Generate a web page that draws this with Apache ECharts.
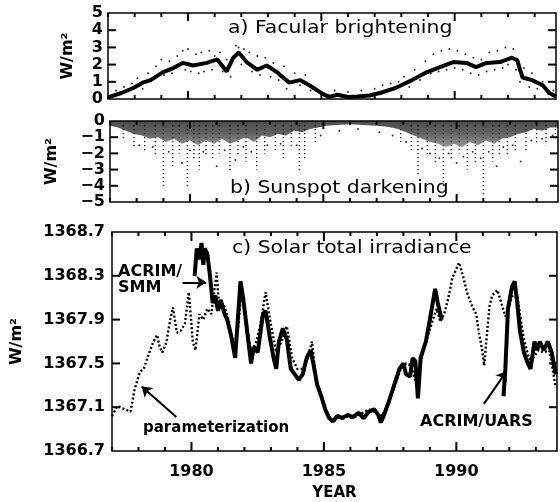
<!DOCTYPE html>
<html>
<head>
<meta charset="utf-8">
<script src="https://cdn.jsdelivr.net/npm/echarts@6/dist/echarts.min.js"></script>
<style>
html, body { margin: 0; padding: 0; background: #fff; overflow: hidden; }
#chart { width: 560px; height: 502px; }
</style>
</head>
<body>
<div id="chart"></div>
<script>
// a) facular brightening: smoothed curve + scattered daily points  [year, W/m2]
var facCurve = [
    [1977.0, 0.1], [1977.5, 0.35], [1977.95, 0.64], [1978.3, 0.95], [1978.6, 1.1],
    [1979.05, 1.55], [1979.45, 1.8], [1979.8, 2.1], [1980.2, 1.95], [1980.7, 2.1],
    [1981.1, 2.3], [1981.45, 1.6], [1981.7, 2.4], [1981.9, 2.7], [1982.2, 2.15],
    [1982.6, 1.7], [1982.95, 1.95], [1983.35, 1.55], [1983.45, 1.4], [1983.8, 0.95],
    [1984.2, 1.1], [1984.55, 0.8], [1985.05, 0.3], [1985.3, 0.12], [1985.6, 0.25],
    [1986.0, 0.12], [1986.35, 0.15], [1986.8, 0.2], [1987.2, 0.35], [1987.8, 0.65],
    [1988.4, 1.1], [1988.95, 1.55], [1989.45, 1.85], [1989.95, 2.15], [1990.45, 2.1],
    [1990.8, 1.85], [1991.2, 2.1], [1991.7, 2.15], [1992.15, 2.4], [1992.35, 2.25],
    [1992.45, 1.7], [1992.55, 1.25], [1992.9, 1.1], [1993.3, 0.8], [1993.55, 0.35],
    [1993.8, 0.15]
];
var facDots = [
    [1977.3, 0.5], [1977.6, 0.7], [1977.9, 0.9], [1978.1, 1.2], [1978.3, 0.6], [1978.5, 1.5],
    [1978.6, 1.1], [1978.8, 1.9], [1979.0, 2.3], [1979.1, 1.4], [1979.3, 2.2], [1979.4, 1.5],
    [1979.6, 2.5], [1979.8, 2.8], [1979.9, 1.7], [1980.0, 2.9], [1980.1, 1.6], [1980.3, 2.6],
    [1980.4, 1.5], [1980.5, 2.7], [1980.6, 1.6], [1980.8, 2.8], [1980.9, 1.7], [1981.0, 2.5],
    [1981.2, 2.7], [1981.3, 1.6], [1981.45, 2.3], [1981.6, 1.3], [1981.8, 3.1], [1981.9, 3.0],
    [1982.0, 2.0], [1982.1, 2.9], [1982.3, 2.7], [1982.4, 1.6], [1982.6, 2.5], [1982.7, 1.4],
    [1982.9, 2.4], [1983.1, 1.3], [1983.2, 2.1], [1983.4, 1.1], [1983.6, 1.9], [1983.7, 0.6],
    [1984.0, 1.5], [1984.2, 0.8], [1984.4, 1.4], [1984.6, 0.5], [1985.5, 0.5], [1986.0, 0.4],
    [1986.5, 0.5], [1987.0, 0.6], [1987.3, 0.8], [1987.6, 0.9], [1987.9, 1.0], [1988.1, 1.3],
    [1988.3, 0.7], [1988.5, 1.7], [1988.7, 1.1], [1988.9, 2.2], [1989.1, 1.5], [1989.2, 2.6],
    [1989.4, 1.6], [1989.5, 2.8], [1989.7, 1.7], [1989.8, 2.9], [1990.0, 1.8], [1990.1, 2.8],
    [1990.3, 1.7], [1990.4, 2.6], [1990.6, 1.5], [1990.7, 2.4], [1990.9, 1.4], [1991.0, 2.3],
    [1991.2, 1.6], [1991.3, 2.7], [1991.5, 1.7], [1991.6, 2.8], [1991.8, 1.8], [1991.9, 3.0],
    [1992.0, 2.0], [1992.2, 2.9], [1992.3, 1.7], [1992.45, 1.0], [1992.6, 1.8], [1992.8, 0.7],
    [1992.9, 1.5], [1993.1, 0.6], [1993.3, 1.0], [1993.5, 0.3], [1993.7, 0.5]
];

// b) sunspot darkening: lower edge of the dense band, deep dips, loose points
var spotBand = [
    [1977.0, -0.3], [1977.3, -0.4], [1977.6, -0.6], [1977.9, -0.8], [1978.2, -0.9],
    [1978.5, -1.1], [1978.8, -1.0], [1979.1, -1.3], [1979.4, -1.1], [1979.7, -1.4],
    [1980.0, -1.2], [1980.3, -1.5], [1980.6, -1.2], [1980.9, -1.4], [1981.2, -1.1],
    [1981.5, -1.4], [1981.8, -1.2], [1982.1, -1.0], [1982.4, -1.3], [1982.7, -0.9],
    [1983.0, -1.0], [1983.3, -0.8], [1983.6, -0.9], [1983.9, -0.6], [1984.2, -0.7],
    [1984.5, -0.5], [1984.8, -0.4], [1985.1, -0.3], [1985.5, -0.25], [1986.0, -0.2],
    [1986.5, -0.25], [1987.0, -0.3], [1987.4, -0.35], [1987.8, -0.5], [1988.1, -0.7],
    [1988.4, -0.9], [1988.7, -1.1], [1989.0, -1.3], [1989.3, -1.4], [1989.6, -1.6],
    [1989.9, -1.4], [1990.2, -1.6], [1990.5, -1.3], [1990.8, -1.5], [1991.1, -1.2],
    [1991.4, -1.4], [1991.7, -1.1], [1992.0, -1.0], [1992.3, -0.8], [1992.6, -0.7],
    [1992.9, -0.5], [1993.2, -0.6], [1993.5, -0.4], [1993.8, -0.4]
];
var spotDips = [
    [1977.5, -1.2], [1977.9, -1.6], [1978.3, -1.9], [1978.7, -2.2], [1979.0, -4.0],
    [1979.35, -2.8], [1979.6, -2.0], [1979.9, -4.1], [1980.15, -2.4], [1980.35, -3.0],
    [1980.6, -2.2], [1980.85, -2.4], [1981.1, -2.0], [1981.5, -3.2], [1981.8, -2.1],
    [1982.1, -2.5], [1982.5, -3.0], [1982.8, -2.0], [1983.2, -1.9], [1983.5, -2.4],
    [1983.8, -1.7], [1984.1, -3.2], [1984.3, -2.3], [1984.7, -1.4], [1987.9, -1.3],
    [1988.3, -1.8], [1988.55, -3.3], [1988.9, -2.2], [1989.2, -2.6], [1989.5, -4.0],
    [1989.8, -2.4], [1990.1, -2.0], [1990.4, -3.0], [1990.7, -2.6], [1991.0, -4.6],
    [1991.35, -2.5], [1991.6, -2.1], [1991.9, -2.2], [1992.2, -1.9], [1992.6, -1.8],
    [1993.0, -1.4], [1993.35, -1.5], [1993.7, -1.2]
];
var spotDots = [
    [1978.1, -1.5], [1978.6, -1.6], [1979.2, -1.9], [1979.7, -2.6], [1980.0, -1.8],
    [1980.5, -1.9], [1981.0, -2.8], [1981.3, -1.8], [1981.7, -2.4], [1982.0, -1.6],
    [1982.3, -1.9], [1982.9, -1.5], [1983.4, -1.4], [1984.0, -1.5], [1984.9, -0.9],
    [1985.6, -0.6], [1986.3, -0.5], [1987.1, -0.7], [1987.6, -0.9], [1988.1, -1.3],
    [1988.7, -1.7], [1989.0, -2.0], [1989.35, -2.3], [1989.7, -2.0], [1990.0, -2.6],
    [1990.25, -2.2], [1990.6, -1.9], [1990.9, -2.3], [1991.2, -1.9], [1991.5, -2.8],
    [1991.75, -1.6], [1992.1, -1.5], [1992.4, -2.5], [1992.8, -1.2], [1993.2, -1.1],
    [1993.6, -0.9]
];

// c) solar total irradiance [year, W/m2]
var paramModel = [
    [1977.0, 1367.02], [1977.2, 1367.11], [1977.4, 1367.09], [1977.6, 1367.07], [1977.7, 1367.06],
    [1977.85, 1367.26], [1978.05, 1367.42], [1978.2, 1367.45], [1978.35, 1367.56], [1978.55, 1367.69],
    [1978.7, 1367.76], [1978.8, 1367.65], [1978.9, 1367.6], [1979.05, 1367.69], [1979.2, 1367.9],
    [1979.3, 1368.01], [1979.45, 1367.78], [1979.6, 1367.8], [1979.75, 1367.86], [1979.9, 1368.15],
    [1980.05, 1367.7], [1980.15, 1367.62], [1980.3, 1367.95], [1980.45, 1367.9], [1980.6, 1368.0],
    [1980.75, 1367.95], [1980.95, 1368.33], [1981.05, 1368.0], [1981.2, 1368.05], [1981.4, 1367.9],
    [1981.6, 1367.65], [1981.75, 1367.8], [1981.9, 1368.2], [1982.05, 1367.9], [1982.25, 1367.6],
    [1982.45, 1367.7], [1982.6, 1367.85], [1982.8, 1368.15], [1983.0, 1367.85], [1983.2, 1367.6],
    [1983.4, 1367.7], [1983.6, 1367.84], [1983.8, 1367.55], [1984.0, 1367.45], [1984.2, 1367.45],
    [1984.4, 1367.55], [1984.55, 1367.7], [1984.7, 1367.35], [1984.9, 1367.2], [1985.1, 1367.05],
    [1985.3, 1366.97], [1985.5, 1367.0], [1985.8, 1367.02], [1986.1, 1367.0], [1986.4, 1367.04],
    [1986.7, 1367.08], [1987.0, 1367.05], [1987.2, 1367.02], [1987.4, 1367.12], [1987.65, 1367.28],
    [1987.9, 1367.45], [1988.1, 1367.5], [1988.3, 1367.48], [1988.5, 1367.3], [1988.65, 1367.5],
    [1988.85, 1367.7], [1989.05, 1367.85], [1989.25, 1368.0], [1989.4, 1367.88], [1989.55, 1367.96],
    [1989.7, 1368.1], [1989.85, 1368.28], [1990.1, 1368.42], [1990.25, 1368.3], [1990.4, 1368.15],
    [1990.6, 1368.02], [1990.75, 1367.95], [1990.85, 1367.78], [1990.97, 1367.63], [1991.05, 1367.48],
    [1991.15, 1367.75], [1991.25, 1368.02], [1991.35, 1368.12], [1991.55, 1368.17], [1991.7, 1368.05],
    [1991.85, 1367.93], [1991.95, 1367.98], [1992.1, 1368.11], [1992.3, 1368.13], [1992.4, 1367.95],
    [1992.55, 1367.72], [1992.75, 1367.54], [1992.9, 1367.55], [1993.1, 1367.62], [1993.3, 1367.6],
    [1993.5, 1367.62], [1993.6, 1367.5], [1993.75, 1367.28]
];
var acrimSMM = [
    [1980.12, 1368.3], [1980.2, 1368.55], [1980.3, 1368.45], [1980.38, 1368.6], [1980.45, 1368.4],
    [1980.5, 1368.55], [1980.6, 1368.5], [1980.7, 1368.3], [1980.8, 1368.05], [1980.9, 1368.12],
    [1981.0, 1367.98], [1981.1, 1368.08], [1981.25, 1367.95], [1981.35, 1367.9], [1981.5, 1367.75],
    [1981.65, 1367.55], [1981.75, 1367.9], [1981.85, 1368.25], [1981.95, 1368.1], [1982.1, 1367.8],
    [1982.25, 1367.5], [1982.35, 1367.65], [1982.5, 1367.6], [1982.7, 1367.95], [1982.8, 1367.98],
    [1982.95, 1367.75], [1983.1, 1367.55], [1983.2, 1367.45], [1983.3, 1367.7], [1983.45, 1367.82],
    [1983.6, 1367.72], [1983.75, 1367.45], [1983.9, 1367.4], [1984.05, 1367.35], [1984.2, 1367.4],
    [1984.35, 1367.55], [1984.5, 1367.62], [1984.6, 1367.5], [1984.75, 1367.3], [1984.9, 1367.2],
    [1985.05, 1367.08], [1985.2, 1367.0], [1985.35, 1366.97], [1985.5, 1367.02], [1985.7, 1367.0],
    [1985.9, 1367.03], [1986.1, 1367.01], [1986.3, 1367.05], [1986.5, 1367.0], [1986.7, 1367.06],
    [1986.9, 1367.08], [1987.05, 1367.03], [1987.15, 1366.96], [1987.3, 1367.05], [1987.45, 1367.15],
    [1987.65, 1367.3], [1987.85, 1367.45], [1988.0, 1367.5], [1988.1, 1367.4], [1988.25, 1367.38],
    [1988.35, 1367.55], [1988.45, 1367.52], [1988.55, 1367.18], [1988.65, 1367.55], [1988.85, 1367.7],
    [1989.0, 1367.9], [1989.2, 1368.18], [1989.3, 1368.05], [1989.45, 1367.9]
];
var acrimUARS = [
    [1991.78, 1367.2], [1991.85, 1367.45], [1991.95, 1368.0], [1992.1, 1368.2], [1992.2, 1368.25],
    [1992.3, 1368.05], [1992.4, 1367.8], [1992.55, 1367.6], [1992.7, 1367.5], [1992.8, 1367.45],
    [1992.95, 1367.7], [1993.05, 1367.62], [1993.15, 1367.7], [1993.3, 1367.62], [1993.45, 1367.7],
    [1993.6, 1367.6], [1993.75, 1367.4]
];

// tick positions
var minorYears = [1977, 1978, 1979, 1981, 1982, 1983, 1984, 1986, 1987, 1988, 1989, 1991, 1992, 1993];
var majorYears = [1980, 1985, 1990];
var facTicks = [1, 2, 3, 4];
var spotTicks = [-1, -2, -3, -4];
var tsiTicks = [1367.1, 1367.5, 1367.9, 1368.3];

var XMIN = 1977, XMAX = 1993.8;
var FONT = '"DejaVu Sans", sans-serif';

function boldText(size) {
    return { color: '#000', fontFamily: FONT, fontWeight: 'bold', fontSize: size };
}

// ticks drawn inward from both sides of each box
function tickSeries(gi, dir, values, len) {
    var yBase = [0, -5, 1366.7][gi];
    return {
        type: 'custom', xAxisIndex: gi, yAxisIndex: gi, clip: false, silent: true, z: 5,
        data: values.map(function (v) { return dir === 'x' ? [v, yBase] : [XMIN, v]; }),
        renderItem: function (params, api) {
            var cs = params.coordSys;
            var p = api.coord([api.value(0), api.value(1)]);
            var a, b;
            if (dir === 'x') {
                a = { x1: p[0], y1: cs.y + cs.height, x2: p[0], y2: cs.y + cs.height - len };
                b = { x1: p[0], y1: cs.y, x2: p[0], y2: cs.y + len };
            } else {
                a = { x1: cs.x, y1: p[1], x2: cs.x + len, y2: p[1] };
                b = { x1: cs.x + cs.width, y1: p[1], x2: cs.x + cs.width - len, y2: p[1] };
            }
            return {
                type: 'group',
                children: [
                    { type: 'line', shape: a, style: { stroke: '#000', lineWidth: 2 } },
                    { type: 'line', shape: b, style: { stroke: '#000', lineWidth: 2 } }
                ]
            };
        }
    };
}

function renderDip(params, api) {
    var a = api.coord([api.value(0), 0]);
    var b = api.coord([api.value(0), api.value(1)]);
    return {
        type: 'line',
        shape: { x1: a[0], y1: a[1], x2: b[0], y2: b[1] },
        style: { stroke: '#000', lineWidth: 1.3, lineDash: [1.3, 2.7] }
    };
}

function xAxisFor(gi) {
    var withLabels = gi === 2;
    return {
        gridIndex: gi, type: 'value', min: XMIN, max: XMAX, interval: 1,
        axisLine: { show: false }, axisTick: { show: false }, splitLine: { show: false },
        axisLabel: Object.assign({
            show: withLabels, margin: 13,
            formatter: function (v) { return v % 5 === 0 ? String(v) : ''; }
        }, boldText(16)),
        name: withLabels ? 'YEAR' : '', nameLocation: 'middle', nameGap: 35,
        nameTextStyle: boldText(15)
    };
}

function yAxisFor(gi, min, max, interval, gap, margin, fmt) {
    return {
        gridIndex: gi, type: 'value', min: min, max: max, interval: interval,
        axisLine: { show: false }, axisTick: { show: false }, splitLine: { show: false },
        axisLabel: Object.assign({ margin: margin, formatter: fmt }, boldText(16)),
        name: 'W/m\u00b2', nameLocation: 'middle', nameRotate: 90, nameGap: gap,
        nameTextStyle: boldText(16)
    };
}

function titleText(x, y, text, sx) {
    return {
        type: 'text', x: x, y: y, scaleX: sx, silent: true,
        style: { text: text, fill: '#000', fontFamily: FONT, fontSize: 17, verticalAlign: 'middle' }
    };
}
function noteText(x, y, text, size) {
    return {
        type: 'text', x: x, y: y, silent: true,
        style: { text: text, fill: '#000', fontFamily: FONT, fontWeight: 'bold', fontSize: size, verticalAlign: 'middle' }
    };
}

function gridAt(left, top, height) {
    return { left: left, top: top, width: 448, height: height, show: true, borderColor: '#000', borderWidth: 1.5, backgroundColor: 'transparent' };
}

var option = {
    animation: false,
    backgroundColor: '#fff',
    grid: [gridAt(108, 13, 86), gridAt(110, 121, 81), gridAt(112, 232, 220)],
    xAxis: [xAxisFor(0), xAxisFor(1), xAxisFor(2)],
    yAxis: [
        yAxisFor(0, 0, 5, 1, 32, 5, function (v) { return String(v); }),
        yAxisFor(1, -5, 0, 1, 50, 5, function (v) { return v === 0 ? '0' : '\u2212' + Math.abs(v); }),
        yAxisFor(2, 1366.7, 1368.7, 0.4, 87, 7, function (v) { return v.toFixed(1); })
    ],
    series: [
        tickSeries(0, 'x', minorYears, 4), tickSeries(0, 'x', majorYears, 8), tickSeries(0, 'y', facTicks, 8),
        tickSeries(1, 'x', minorYears, 4), tickSeries(1, 'x', majorYears, 8), tickSeries(1, 'y', spotTicks, 8),
        tickSeries(2, 'x', minorYears, 4), tickSeries(2, 'x', majorYears, 9), tickSeries(2, 'y', tsiTicks, 8),
        {
            type: 'scatter', xAxisIndex: 0, yAxisIndex: 0, data: facDots,
            symbolSize: 2, itemStyle: { color: '#000' }
        },
        {
            type: 'line', xAxisIndex: 0, yAxisIndex: 0, data: facCurve,
            symbol: 'none', lineStyle: { color: '#000', width: 4 }
        },
        {
            type: 'line', xAxisIndex: 1, yAxisIndex: 1, data: spotBand,
            symbol: 'none', lineStyle: { width: 0 },
            areaStyle: {
                origin: 'end',
                color: new echarts.graphic.LinearGradient(0, 0, 0, 1, [
                    { offset: 0, color: '#000' },
                    { offset: 0.45, color: '#1c1c1c' },
                    { offset: 1, color: '#6a6a6a' }
                ])
            }
        },
        {
            type: 'custom', xAxisIndex: 1, yAxisIndex: 1, data: spotDips,
            renderItem: renderDip
        },
        {
            type: 'scatter', xAxisIndex: 1, yAxisIndex: 1, data: spotDots,
            symbolSize: 2, itemStyle: { color: '#000' }
        },
        {
            type: 'line', xAxisIndex: 2, yAxisIndex: 2, data: paramModel,
            symbol: 'none', lineStyle: { color: '#000', width: 2.4, type: [2, 2.2] }
        },
        {
            type: 'line', xAxisIndex: 2, yAxisIndex: 2, data: acrimSMM,
            symbol: 'none', lineStyle: { color: '#000', width: 4 },
            markLine: {
                silent: true, symbol: ['none', 'arrow'], symbolSize: 10,
                label: { show: false },
                lineStyle: { color: '#000', width: 2, type: 'solid' },
                data: [
                    [{ coord: [1979.66, 1368.24] }, { coord: [1980.56, 1368.24] }],
                    [{ coord: [1979.43, 1367.01] }, { coord: [1978.12, 1367.29] }],
                    [{ coord: [1991.04, 1367.13] }, { coord: [1991.9, 1367.43] }]
                ]
            }
        },
        {
            type: 'line', xAxisIndex: 2, yAxisIndex: 2, data: acrimUARS,
            symbol: 'none', lineStyle: { color: '#000', width: 4 }
        }
    ],
    graphic: [
        titleText(228, 29, 'a) Facular brightening', 1.2),
        titleText(230, 189, 'b) Sunspot darkening', 1.2),
        titleText(232, 249, 'c) Solar total irradiance', 1.2),
        noteText(118, 272, 'ACRIM/', 16),
        noteText(118, 288, 'SMM', 16),
        noteText(143, 428, 'parameterization', 15),
        noteText(420, 422, 'ACRIM/UARS', 16)
    ]
};

var myChart = echarts.init(document.getElementById('chart'));
myChart.setOption(option);
</script>
</body>
</html>
